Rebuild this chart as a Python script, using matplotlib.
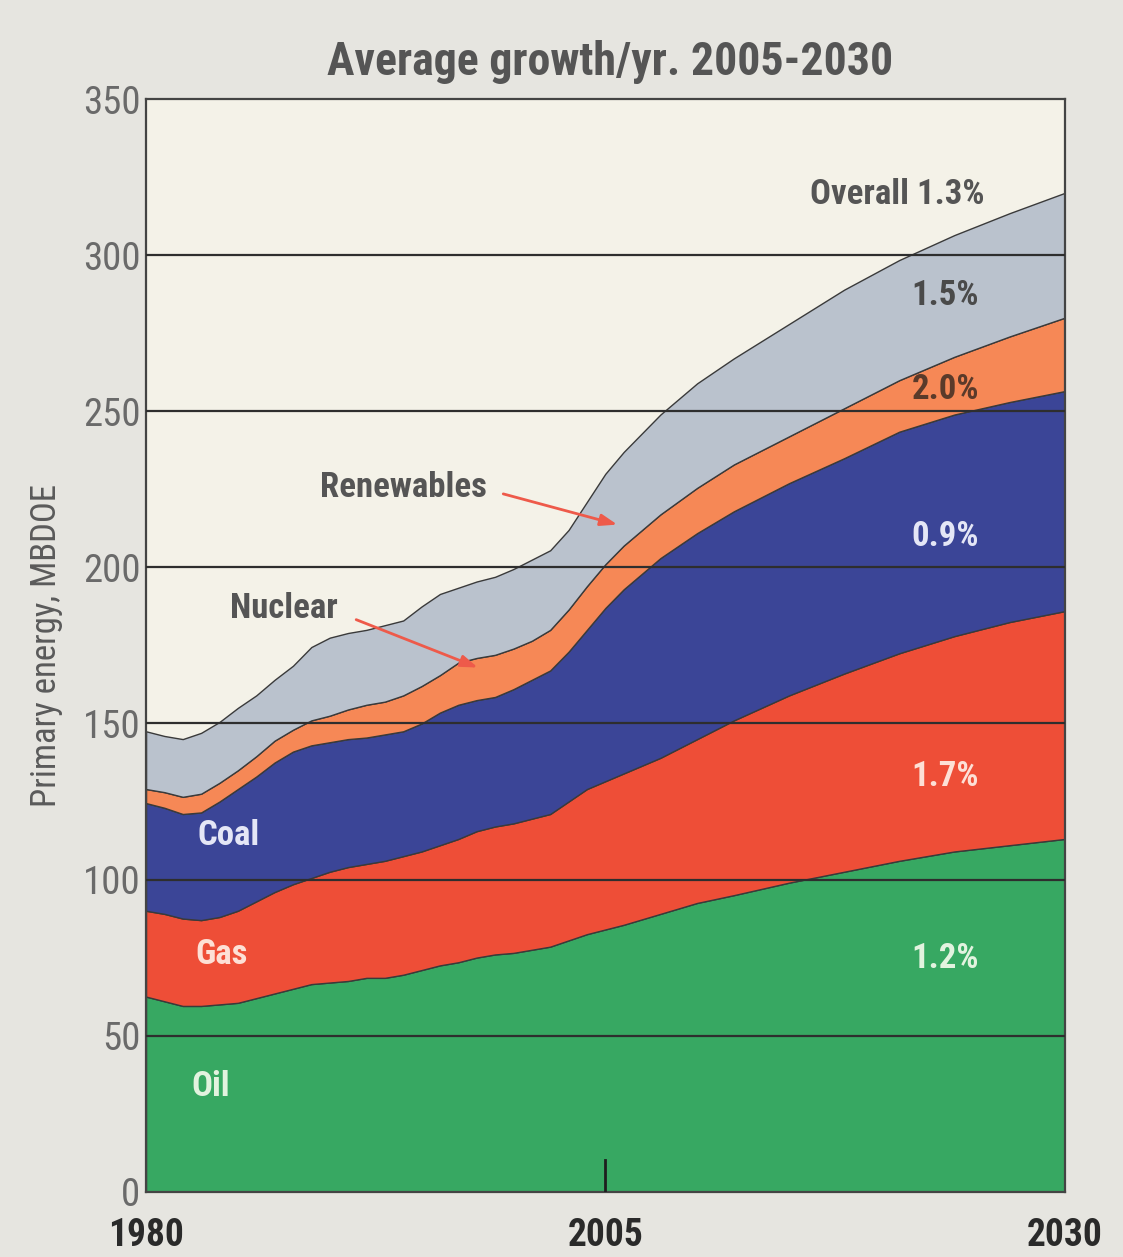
import matplotlib.pyplot as plt
import numpy as np

# primary energy by fuel, MBDOE
years = [1980, 1981, 1982, 1983, 1984, 1985, 1986, 1987, 1988, 1989,
         1990, 1991, 1992, 1993, 1994, 1995, 1996, 1997, 1998, 1999,
         2000, 2001, 2002, 2003, 2004, 2005, 2006, 2008, 2010, 2012,
         2015, 2018, 2021, 2024, 2027, 2030]
oil = [62.5, 61, 59.5, 59.5, 60, 60.5, 62, 63.5, 65, 66.5,
       67, 67.5, 68.5, 68.5, 69.5, 71, 72.5, 73.5, 75, 76,
       76.5, 77.5, 78.5, 80.5, 82.5, 84, 85.5, 89, 92.5, 95,
       99, 102.5, 106, 109, 111, 113]
gas = [27.5, 28, 28, 27.5, 28, 29.5, 31, 32.5, 33.5, 34,
       35.5, 36.5, 36.5, 37.5, 38, 38, 38.5, 39.5, 40.5, 41,
       41.5, 42, 42.5, 44.5, 46.5, 47.5, 48.5, 50, 52.5, 56,
       60, 63.5, 66.5, 69, 71.5, 73]
coal = [34.5, 34, 33.5, 34.5, 37, 39, 40, 41.5, 42.5, 42.5,
        41.5, 41, 40.5, 40.5, 40, 41, 42.5, 43, 42, 41.5,
        43, 44.5, 46, 48, 51, 55.5, 59, 64, 66, 67,
        68, 69, 71, 71, 70.5, 70.5]
nuclear = [4.5, 5, 5.5, 6, 6, 6, 6.5, 7, 7, 8,
           8.5, 9.5, 10.5, 10.5, 11.5, 12, 12, 13.5, 13.5, 13.5,
           13, 12.5, 13, 13.5, 14, 14, 14, 14, 14.5, 15,
           15, 16, 16.5, 18.5, 21, 23.5]
renewables = [18.5, 18, 18.5, 19.5, 19.5, 20, 19.5, 19.5, 20.5, 23.5,
              25, 24.5, 24, 24.5, 24, 25.5, 26, 24, 24.5, 25,
              25.5, 26, 25.5, 25.5, 27, 29, 30, 32, 33.5, 34,
              36, 38, 38.5, 39, 39.5, 40]

fuels = ["Oil", "Gas", "Coal", "Nuclear", "Renewables"]
growth = ["1.2%", "1.7%", "0.9%", "2.0%", "1.5%"]
overall = "1.3%"

colors = ["#37a862", "#ee4e37", "#3b4597", "#f68856", "#bac2cd"]
label_colors = ["#e2f3df", "#fde0d6", "#e4e6f6", "#5a3a2a", "#4a4a4a"]

# narrow faces first, plain sans as the last resort
plt.rcParams['font.family'] = ['Liberation Sans Narrow', 'Roboto Condensed',
                               'DejaVu Sans Condensed', 'Roboto', 'DejaVu Sans']

fig = plt.figure(figsize=(11.23, 12.57), dpi=100)
fig.patch.set_facecolor("#e6e5e0")
ax = fig.add_axes([0.130, 0.052, 0.818, 0.869])
ax.set_facecolor("#f4f2e8")

ax.stackplot(years, oil, gas, coal, nuclear, renewables,
             colors=colors, edgecolor="#3a3a3a", linewidth=1.0, zorder=2)

ax.set_xlim(1980, 2030)
ax.set_ylim(0, 350)

# horizontal rules drawn over the fills
for v in range(50, 301, 50):
    ax.axhline(v, color="#2e2e2e", lw=1.6, zorder=3)
ax.plot([2005, 2005], [0, 10], color="#1e1e1e", lw=2, zorder=3)

ax.set_yticks(range(0, 351, 50))
ax.set_yticklabels([str(v) for v in range(0, 351, 50)], fontsize=28, color="#6a6a6a")
ax.set_xticks([1980, 2005, 2030])
ax.set_xticklabels(["1980", "2005", "2030"], fontsize=27, color="#2a2a2a", fontweight="bold")
ax.tick_params(axis="y", length=0, pad=4)
ax.tick_params(axis="x", length=0, pad=18)
for s in ax.spines.values():
    s.set_color("#444444")
    s.set_linewidth(1.6)

ax.set_ylabel("Primary energy, MBDOE", fontsize=25, color="#5a5a5a", labelpad=14)
fig.text(0.543, 0.951, "Average growth/yr. 2005-2030", ha="center", va="center",
         fontsize=33, fontweight="bold", color="#555555")

# fuel names on the left
ax.text(1984.5, 114, fuels[2], fontsize=25, fontweight="bold", color=label_colors[2], ha="center", va="center", zorder=4)
ax.text(1984.1, 76, fuels[1], fontsize=25, fontweight="bold", color=label_colors[1], ha="center", va="center", zorder=4)
ax.text(1983.5, 33.7, fuels[0], fontsize=25, fontweight="bold", color=label_colors[0], ha="center", va="center", zorder=4)
ax.text(1994, 225.7, fuels[4], fontsize=25, fontweight="bold", color="#555555", ha="center", va="center", zorder=4)
ax.text(1987.5, 187, fuels[3], fontsize=25, fontweight="bold", color="#555555", ha="center", va="center", zorder=4)

arrow = dict(arrowstyle="-|>,head_length=1.0,head_width=0.35", color="#ee5a4a", lw=2)
ax.annotate("", xy=(2005.8, 213.5), xytext=(1999.3, 223.8), arrowprops=arrow, zorder=4)
ax.annotate("", xy=(1998.2, 167.6), xytext=(1991.3, 183.6), arrowprops=arrow, zorder=4)

# growth rates on the right
growth_y = [74.7, 133, 210, 257, 287]
for g, gy, c in zip(growth, growth_y, label_colors):
    ax.text(2023.5, gy, g, fontsize=25, fontweight="bold", color=c, ha="center", va="center", zorder=4)
ax.text(2020.9, 319.4, "Overall " + overall, fontsize=25, fontweight="bold", color="#555555",
        ha="center", va="center", zorder=4)

fig.savefig("out.png", dpi=100, facecolor=fig.get_facecolor())
